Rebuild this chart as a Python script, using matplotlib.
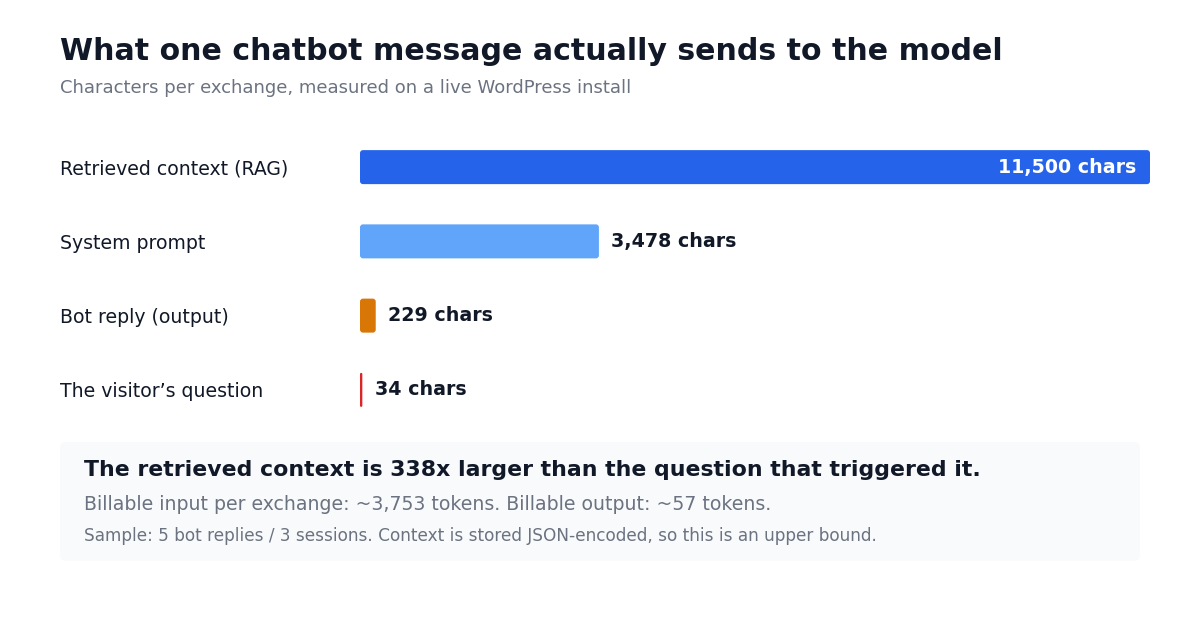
import matplotlib
matplotlib.use("Agg")
import matplotlib.pyplot as plt
from matplotlib.patches import FancyBboxPatch

# data
categories = ["Retrieved context (RAG)", "System prompt", "Bot reply (output)", "The visitor\u2019s question"]
chars = [11500, 3478, 229, 34]
bar_colors = ["#2563eb", "#60a5fa", "#d97706", "#dc2626"]

title = "What one chatbot message actually sends to the model"
subtitle = "Characters per exchange, measured on a live WordPress install"
note_head = "The retrieved context is 338x larger than the question that triggered it."
note_line = "Billable input per exchange: ~3,753 tokens. Billable output: ~57 tokens."
note_small = "Sample: 5 bot replies / 3 sessions. Context is stored JSON-encoded, so this is an upper bound."

W, H = 1200, 620
DARK = "#111827"
GRAY = "#6b7280"

plt.rcParams["font.family"] = ["DejaVu Sans"]
fig = plt.figure(figsize=(W / 100, H / 100), dpi=100)
fig.patch.set_facecolor("white")


def fx(px):
    return px / W


def fy(py):
    return 1 - py / H


# headings
fig.text(fx(60), fy(52), title, fontsize=21.6, fontweight="bold", color=DARK, va="center", ha="left")
fig.text(fx(60), fy(88), subtitle, fontsize=13, color=GRAY, va="center", ha="left")

# bar area: 360..1150 px wide, rows from 130..427 px
top, bottom = 130, 427
row_h = (bottom - top) / len(categories)
ax = fig.add_axes([fx(360), fy(bottom), fx(1150) - fx(360), (bottom - top) / H])
ypos = list(range(len(categories)))
bars = ax.barh(ypos, chars, color=bar_colors, height=34 / row_h)
ax.set_xlim(0, max(chars))
ax.set_ylim(len(categories) - 0.5, -0.5)
ax.axis("off")

# swap the plain rectangles for ones with slightly rounded corners (~3 px)
x_per_px = max(chars) / (1150 - 360)
y_per_px = 1 / row_h
for b in bars:
    x0, y0, w, h = b.get_x(), b.get_y(), b.get_width(), b.get_height()
    r_px = min(3, w / x_per_px / 2)
    rounded = FancyBboxPatch((x0, y0), w, h,
                             boxstyle=f"round,pad=0,rounding_size={r_px * x_per_px}",
                             mutation_aspect=y_per_px / x_per_px,
                             facecolor=b.get_facecolor(), edgecolor="none")
    b.set_visible(False)
    ax.add_patch(rounded)

for i, (cat, val) in enumerate(zip(categories, chars)):
    label = f"{val:,} chars"
    row_px = top + row_h * (i + 0.5)
    fig.text(fx(60), fy(row_px + 2), cat, fontsize=13.6, color=DARK, va="center", ha="left")
    if val == max(chars):
        ax.annotate(label, (val, i), xytext=(-10, 0), textcoords="offset points",
                    ha="right", va="center", fontsize=13.7, fontweight="bold", color="white")
    else:
        ax.annotate(label, (val, i), xytext=(9, 0), textcoords="offset points",
                    ha="left", va="center", fontsize=13.7, fontweight="bold", color=DARK)

# note box
box = FancyBboxPatch((fx(60), fy(561)), fx(1140) - fx(60), (561 - 442) / H,
                     boxstyle="round,pad=0,rounding_size=0.005", mutation_aspect=W / H,
                     transform=fig.transFigure, facecolor="#f8fafc", edgecolor="none")
fig.patches.append(box)
fig.text(fx(84), fy(470), note_head, fontsize=15.8, fontweight="bold", color=DARK, va="center", ha="left")
fig.text(fx(84), fy(505), note_line, fontsize=13.6, color=GRAY, va="center", ha="left")
fig.text(fx(84), fy(536), note_small, fontsize=12.2, color=GRAY, va="center", ha="left")

fig.savefig("out.png", dpi=100, facecolor="white")
